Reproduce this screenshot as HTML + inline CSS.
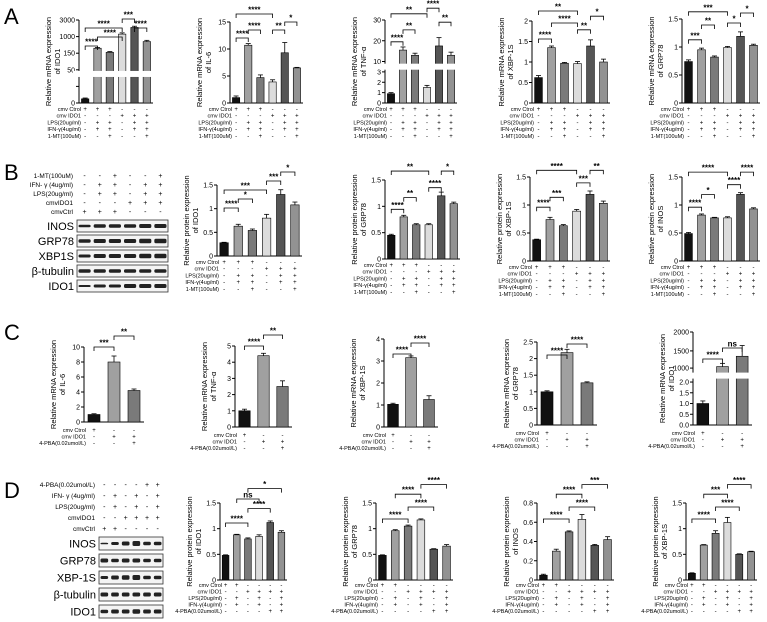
<!DOCTYPE html>
<html><head><meta charset="utf-8"><style>
body{margin:0;background:#fff}
svg{display:block;font-family:"Liberation Sans",Arial,sans-serif}
</style></head><body>
<svg id="fig" width="767" height="622" viewBox="0 0 767 622">
<text x="4" y="24" font-size="22">A</text>
<text x="4" y="180" font-size="22">B</text>
<text x="4" y="340" font-size="22">C</text>
<text x="4" y="498" font-size="22">D</text>
</svg>
<script>
const NS="http://www.w3.org/2000/svg";
const svg=document.getElementById('fig');
const PAL6=['#111','#a0a0a0','#7a7a7a','#dcdcdc','#555','#929292'];
const PAL3=['#111','#a0a0a0','#7a7a7a'];
function el(t,a,p){const e=document.createElementNS(NS,t);for(const k in a)e.setAttribute(k,a[k]);(p||svg).appendChild(e);return e;}

// ---------- data ----------
const A_rows=[["cmv Ctrol","+++---"],["cmv IDO1","---+++"],["LPS(20ug/ml)","-++-++"],["IFN-γ(4ug/ml)","-++-++"],["1-MT(100uM)","--+--+"]];
const B_rows=A_rows;
const C_rows=[["cmv Ctrol","+--"],["cmv IDO1","-++"],["4-PBA(0.02umol/L)","--+"]];
const D_rows=[["cmv Ctrol","++----"],["cmv IDO1","--++++"],["LPS(20ug/ml)","-+-+-+"],["IFN-γ(4ug/ml)","-+-+-+"],["4-PBA(0.02umol/L)","----++"]];

const a1Vals=[0.5,6.6,6.1,8.3,9.1,7.4], a1Errs=[0.1,0.1,0.1,0.15,0.15,0.15], a1Ticks=[0,2,4,6,8,10], a1Labels=["0","","50","150","1000","3000"];
const a2Vals=[1,10.7,4.7,3.9,9.3,6.5], a2Errs=[0.3,0.3,0.5,0.4,1.9,0.1], a2Ticks=[0,5,10,15];
const a3Vals=[0.9,5.1,4.6,1.5,5.5,4.6], a3Errs=[0.1,0.3,0.2,0.2,0.8,0.3], a3Ticks=[0,1,2,3,4,6,8], a3Labels=["0","1","2","3","10","20","30"];
const a4Vals=[0.62,1.35,0.97,0.96,1.39,1.0], a4Errs=[0.05,0.04,0.02,0.05,0.15,0.07], a4Ticks=[0,0.5,1.0,1.5,2.0];
const a5Vals=[0.74,0.95,0.82,0.99,1.19,1.03], a5Errs=[0.03,0.03,0.02,0.02,0.08,0.02], a5Ticks=[0,0.5,1.0,1.5];
const b1Vals=[0.28,0.63,0.54,0.8,1.3,1.08], b1Errs=[0.01,0.04,0.03,0.08,0.1,0.06], bTicks=[0,0.5,1.0,1.5];
const b2Vals=[0.45,0.8,0.65,0.65,1.2,1.05], b2Errs=[0.02,0.03,0.02,0.02,0.07,0.03];
const b3Vals=[0.38,0.74,0.63,0.89,1.19,1.03], b3Errs=[0.01,0.04,0.02,0.03,0.06,0.04];
const b4Vals=[0.49,0.82,0.77,0.77,1.19,0.93], b4Errs=[0.02,0.02,0.01,0.02,0.03,0.02];
const c1Vals=[1,8,4.2], c1Errs=[0.1,0.8,0.2], c1Ticks=[0,2,4,6,8,10];
const c2Vals=[1,4.4,2.5], c2Errs=[0.1,0.15,0.35], c2Ticks=[0,1,2,3,4,5];
const c3Vals=[1.03,3.15,1.25], c3Errs=[0.05,0.08,0.17], c3Ticks=[0,1,2,3,4];
const c4Vals=[1,2.18,1.27], c4Errs=[0.03,0.1,0.03], c4Ticks=[0,0.5,1.0,1.5,2.0,2.5];
const c5Vals=[1.0,2.72,3.2], c5Errs=[0.12,0.15,0.5], c5Ticks=[0,0.5,1,1.5,2,2.65,3.45,4.33], c5Labels=["0.0","0.5","1.0","1.5","2.0","1000","1500","2000"];
const d1Vals=[0.48,0.88,0.8,0.85,1.12,0.93], d1Errs=[0.01,0.01,0.02,0.03,0.03,0.03], dTicks15=[0,0.5,1.0,1.5];
const d2Vals=[0.48,0.96,1.05,1.17,0.6,0.66], d2Errs=[0.01,0.02,0.02,0.02,0.01,0.03];
const d3Vals=[0.05,0.3,0.5,0.63,0.36,0.42], d3Errs=[0.01,0.02,0.01,0.05,0.01,0.03], d3Ticks=[0,0.2,0.4,0.6,0.8];
const d4Vals=[0.13,0.68,0.91,1.12,0.5,0.55], d4Errs=[0.01,0.01,0.05,0.1,0.01,0.01];

function chart(o){
  const g=el('g',{});
  
  
  const n=o.vals.length, max=o.ticks[o.ticks.length-1];
  const y=v=>o.yb-(v/max)*(o.yb-o.yt);
  const step=o.w/n, bw=step*0.6;
  el('line',{x1:o.x,y1:o.yt,x2:o.x,y2:o.yb,stroke:'#000','stroke-width':1},g);
  el('line',{x1:o.x,y1:o.yb,x2:o.x+o.w,y2:o.yb,stroke:'#000','stroke-width':1},g);
  o.ticks.forEach((t,i)=>{const ty=y(t);
    el('line',{x1:o.x-3,y1:ty,x2:o.x,y2:ty,stroke:'#000'},g);
    const tx=el('text',{x:o.x-4,y:ty+2.5,'font-size':7,'text-anchor':'end'},g);
    tx.textContent=o.labels?o.labels[i]:String(t);
    
    
  });
  const cx=i=>o.x+step*(i+0.5);
  o.vals.forEach((v,i)=>{
    const r=el('rect',{x:cx(i)-bw/2,y:y(v),width:bw,height:o.yb-y(v),fill:o.pal[i%o.pal.length],stroke:'#000','stroke-width':0.6},g);
    
    
    const e=o.errs[i];
    el('line',{x1:cx(i),y1:y(v),x2:cx(i),y2:y(v+e),stroke:'#000','stroke-width':0.8},g);
    el('line',{x1:cx(i)-2.5,y1:y(v+e),x2:cx(i)+2.5,y2:y(v+e),stroke:'#000','stroke-width':0.8},g);
  });
  if(o.brk){const by=y(o.brk);el('rect',{x:o.x-6,y:by-3,width:o.w+4,height:6,fill:'#fff'},g);}
  const lab=el('text',{transform:`translate(${o.x-24},${(o.yt+o.yb)/2}) rotate(-90)`,'font-size':7.5,'text-anchor':'middle'},g);
  
  
  const t1=el('tspan',{x:0,dy:-4},lab);t1.textContent=o.ylab[0];
  const t2=el('tspan',{x:0,dy:9},lab);t2.textContent=o.ylab[1];
  (o.sig||[]).forEach(s=>{const [a,b,lv,txt]=s;const sy=o.yt-4-lv*(o.sigStep||11)+(o.sigOff||0);
    el('path',{d:`M${cx(a)},${sy+4}V${sy}H${cx(b)}V${sy+4}`,fill:'none',stroke:'#000','stroke-width':0.8},g);
    const st=el('text',{x:(cx(a)+cx(b))/2,y:sy-1.5,'font-size':8,'text-anchor':'middle','font-weight':'bold'},g);
    st.textContent=txt;
    
    
  });
  o.rows.forEach((r,ri)=>{const ry=o.yb+(o.rowStart||8)+ri*(o.rowH||6.7);
    const lt=el('text',{x:o.x+2,y:ry,'font-size':5.5,'text-anchor':'end'},g);lt.textContent=r[0];
    
    
    for(let i=0;i<n;i++){const c=el('text',{x:cx(i),y:ry,'font-size':6,'text-anchor':'middle'},g);c.textContent=r[1][i];}
  });
}

const Ayb=103;
chart({name:'chart-a-ido1',x:79,yt:20,yb:Ayb,w:74,vals:a1Vals,errs:a1Errs,ticks:a1Ticks,labels:a1Labels,pal:PAL6,ylab:['Relative  mRNA expression','of IDO1'],rows:A_rows,brk:3.5,sig:[[0,1,0,'****'],[1,3,1,'****'],[0,3,2,'****'],[3,4,3,'***'],[4,5,2,'****']],sigOff:30,sigStep:9});
chart({name:'chart-a-il6',x:230,yt:22,yb:Ayb,w:73,vals:a2Vals,errs:a2Errs,ticks:a2Ticks,pal:PAL6,ylab:['Relative  mRNA expression','of IL-6'],rows:A_rows,sig:[[0,1,0,'****'],[1,2,1,'****'],[3,4,1,'**'],[4,5,2,'*'],[0,3,3,'****']],sigOff:20,sigStep:8});
chart({name:'chart-a-tnf',x:385,yt:20,yb:Ayb,w:72,vals:a3Vals,errs:a3Errs,ticks:a3Ticks,labels:a3Labels,pal:PAL6,ylab:['Relative  mRNA expression','of TNF-α'],rows:A_rows,brk:3.5,sig:[[0,1,-1.4,'****'],[1,2,0.3,'**'],[0,3,2.6,'**'],[3,4,3.4,'****'],[4,5,1.4,'**']],sigOff:16,sigStep:7});
chart({name:'chart-a-xbp1s',x:532,yt:21,yb:Ayb,w:78,vals:a4Vals,errs:a4Errs,ticks:a4Ticks,pal:PAL6,ylab:['Relative  mRNA expression','of XBP-1S'],rows:A_rows,sig:[[0,1,-0.25,'****'],[1,3,1.75,'****'],[3,4,0.9,'**'],[4,5,2.6,'*'],[0,3,3.25,'**']],sigOff:20,sigStep:8});
chart({name:'chart-a-grp78',x:682,yt:19,yb:Ayb,w:78,vals:a5Vals,errs:a5Errs,ticks:a5Ticks,pal:PAL6,ylab:['Relative  mRNA expression','of GRP78'],rows:A_rows,sig:[[0,1,-0.1,'***'],[1,2,1.75,'**'],[3,4,2,'*'],[4,5,3.25,'*'],[0,3,3.4,'***']],sigOff:24,sigStep:8});

chart({name:'chart-b-ido1',x:217,yt:185,yb:256,w:85,vals:b1Vals,errs:b1Errs,ticks:bTicks,pal:PAL6,ylab:['Relative  protein expression','of IDO1'],rows:B_rows,sig:[[0,1,-3,'****'],[1,2,-2,'*'],[0,3,-1,'***'],[3,4,0,'***'],[4,5,1,'*']],sigStep:9});
chart({name:'chart-b-grp78',x:385,yt:180,yb:259,w:75,vals:b2Vals,errs:b2Errs,ticks:bTicks,pal:PAL6,ylab:['Relative  protein expression','of GRP78'],rows:B_rows,sig:[[0,1,-3.7,'****'],[1,2,-2.4,'**'],[3,4,-1.3,'****'],[4,5,0.55,'*'],[0,3,0.55,'**']],sigStep:9});
chart({name:'chart-b-xbp1s',x:530,yt:177,yb:261,w:80,vals:b3Vals,errs:b3Errs,ticks:bTicks,pal:PAL6,ylab:['Relative  protein expression','of XBP-1S'],rows:B_rows,sig:[[0,1,-3.8,'****'],[1,2,-2.7,'***'],[3,4,-1.1,'***'],[4,5,0.3,'**'],[0,3,0.3,'****']],sigStep:9});
chart({name:'chart-b-inos',x:682,yt:177,yb:261,w:78,vals:b4Vals,errs:b4Errs,ticks:bTicks,pal:PAL6,ylab:['Relative  protein expression','of INOS'],rows:B_rows,sig:[[0,1,-3.8,'****'],[1,2,-2.4,'*'],[3,4,-1.3,'****'],[4,5,0.1,'****'],[0,3,0.1,'****']],sigStep:9});

chart({name:'chart-c-il6',x:84,yt:347,yb:422,w:60,vals:c1Vals,errs:c1Errs,ticks:c1Ticks,pal:PAL3,ylab:['Relative  mRNA expression','of IL-6'],rows:C_rows,rowStart:10,rowH:6.5,sig:[[0,1,0,'***'],[1,2,1,'**']],sigOff:4,sigStep:11});
chart({name:'chart-c-tnf',x:235,yt:346,yb:427,w:57,vals:c2Vals,errs:c2Errs,ticks:c2Ticks,pal:PAL3,ylab:['Relative  mRNA expression','of TNF-α'],rows:C_rows,rowStart:10,rowH:6.5,sig:[[0,1,0,'****'],[1,2,1,'**']],sigOff:4,sigStep:11});
chart({name:'chart-c-xbp1s',x:384,yt:339,yb:427,w:54,vals:c3Vals,errs:c3Errs,ticks:c3Ticks,pal:PAL3,ylab:['Relative  mRNA expression','of XBP-1S'],rows:C_rows,rowStart:10,rowH:6.5,sig:[[0,1,-1,'****'],[1,2,0,'****']],sigOff:8,sigStep:11});
chart({name:'chart-c-grp78',x:537,yt:342,yb:425,w:60,vals:c4Vals,errs:c4Errs,ticks:c4Ticks,pal:PAL3,ylab:['Relative  mRNA expression','of GRP78'],rows:C_rows,rowStart:10,rowH:6.5,sig:[[0,1,-1,'****'],[1,2,0,'****']],sigOff:6,sigStep:11});
chart({name:'chart-c-ido1',x:693,yt:332,yb:425,w:59,vals:c5Vals,errs:c5Errs,ticks:c5Ticks,labels:c5Labels,pal:PAL3,ylab:['Relative  mRNA expression','of IDO1'],rows:C_rows,rowStart:10,rowH:6.5,brk:2.3,sig:[[0,1,-2,'****'],[1,2,-1,'ns']],sigOff:9,sigStep:11});

const Dyt=503,Dyb=580;
chart({name:'chart-d-ido1',x:220,yt:Dyt,yb:Dyb,w:67,vals:d1Vals,errs:d1Errs,ticks:dTicks15,pal:PAL6,ylab:['Relative  protein expression','of IDO1'],rows:D_rows,rowStart:7,rowH:6.5,sig:[[0,2,-3,'****'],[2,4,-1.2,'****'],[1,3,0,'ns'],[2,5,1.3,'*']],sigStep:8});
chart({name:'chart-d-grp78',x:376,yt:Dyt,yb:Dyb,w:77,vals:d2Vals,errs:d2Errs,ticks:dTicks15,pal:PAL6,ylab:['Relative  protein expression','of GRP78'],rows:D_rows,rowStart:7,rowH:6.5,sig:[[0,2,-2.5,'****'],[2,4,-1,'****'],[1,3,0.6,'****'],[3,5,1.8,'****']],sigStep:8});
chart({name:'chart-d-inos',x:537,yt:Dyt,yb:Dyb,w:77,vals:d3Vals,errs:d3Errs,ticks:d3Ticks,pal:PAL6,ylab:['Relative  protein expression','of INOS'],rows:D_rows,rowStart:7,rowH:6.5,sig:[[0,2,-2.5,'****'],[2,4,-1,'****'],[1,3,0.6,'****'],[3,5,1.8,'***']],sigStep:8});
chart({name:'chart-d-xbp1s',x:686,yt:Dyt,yb:Dyb,w:71,vals:d4Vals,errs:d4Errs,ticks:dTicks15,pal:PAL6,ylab:['Relative  protein expression','of XBP-1S'],rows:D_rows,rowStart:7,rowH:6.5,sig:[[0,2,-2.5,'****'],[2,4,-1,'****'],[1,3,0.6,'***'],[3,5,1.8,'****']],sigStep:8});

// ---------- western blots ----------
function blot(o){
  const g=el('g',{});
  
  
  o.head.forEach((h,i)=>{const yy=o.hy+i*o.hs;
    const t=el('text',{x:o.bx-4,y:yy,'font-size':6.5,'text-anchor':'end'},g);t.textContent=h[0];
    for(let k=0;k<6;k++){const c=el('text',{x:o.bx+o.bw*(k+0.5)/6,y:yy,'font-size':7,'text-anchor':'middle'},g);c.textContent=h[1][k];}
  });
  o.bands.forEach((b,i)=>{const yy=o.by+i*o.bs;
    const t=el('text',{x:o.bx-3,y:yy+o.bh/2+4,'font-size':11,'text-anchor':'end'},g);t.textContent=b[0];
    
    
    el('rect',{x:o.bx,y:yy,width:o.bw,height:o.bh,fill:'#f4f4f4',stroke:'#333','stroke-width':0.8},g);
    for(let k=0;k<6;k++){const w=o.bw/6;
      el('rect',{x:o.bx+w*k+1.5,y:yy+o.bh/2-b[1][k]/2,width:w-3,height:b[1][k],rx:1.5,fill:'#222'},g);}
  });
}
blot({name:'western-blot-b',bx:77,bw:91,hy:178,hs:9,head:[["1-MT(100uM)","--+--+"],["IFN- γ (4ug/ml)","-++-++"],["LPS(20ug/ml)","-++-++"],["cmvIDO1","---+++"],["cmvCtrl","+++---"]],by:220,bs:15,bh:12,
 bands:[["INOS",[2.5,3.5,3.5,3.5,4,4]],["GRP78",[3.5,4,4,4,4.5,4.5]],["XBP1S",[3,4,4,4,4.5,4.5]],["β-tubulin",[3.5,3.5,3.5,3.5,3.5,3.5]],["IDO1",[2,3,3,4,4,4]]]});
blot({name:'western-blot-d',bx:99,bw:64,hy:487,hs:11,head:[["4-PBA(0.02umol/L)","----++"],["IFN- γ (4ug/ml)","-+-+-+"],["LPS(20ug/ml)","-+-+-+"],["cmvIDO1","--++++"],["cmvCtrl","++----"]],by:537,bs:17,bh:13,
 bands:[["INOS",[1.5,3,4,5,3.5,3.5]],["GRP78",[4,3.5,4,4,3.5,3.5]],["XBP-1S",[3,4,4.5,5,3.5,3.5]],["β-tubulin",[4,4,4,4,4,4]],["IDO1",[3.5,4,4,4.5,4,4]]]});
</script>
</body></html>
